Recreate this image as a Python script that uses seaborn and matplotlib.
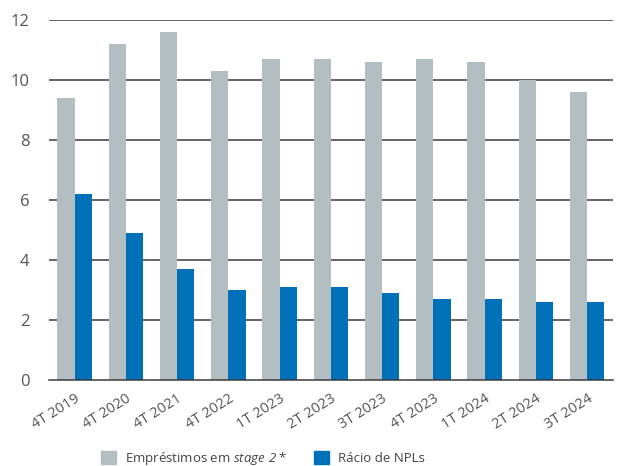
import matplotlib
matplotlib.use("Agg")
import matplotlib.pyplot as plt
import pandas as pd
import seaborn as sns
from matplotlib.patches import Patch

quarters = ['4T 2019', '4T 2020', '4T 2021', '4T 2022', '1T 2023', '2T 2023',
            '3T 2023', '4T 2023', '1T 2024', '2T 2024', '3T 2024']
stage2 = [9.4, 11.2, 11.6, 10.3, 10.7, 10.7, 10.6, 10.7, 10.6, 10.0, 9.6]
npl = [6.2, 4.9, 3.7, 3.0, 3.1, 3.1, 2.9, 2.7, 2.7, 2.6, 2.6]
series_names = ['Empréstimos em stage 2 *', 'Rácio de NPLs']

df = pd.DataFrame({'quarter': quarters * 2,
                   'value': stage2 + npl,
                   'series': [series_names[0]] * len(quarters) + [series_names[1]] * len(quarters)})

sns.set_theme(style="white")
plt.rcParams['font.family'] = ['Open Sans', 'DejaVu Sans']
# mathtext only used for the italic "stage 2" in the legend
plt.rcParams['mathtext.fontset'] = 'custom'
plt.rcParams['mathtext.it'] = 'Open Sans:italic'
plt.rcParams['mathtext.rm'] = 'Open Sans:italic'

colors = ['#B3BEC3', '#0070B8']
fig = plt.figure(figsize=(6.19, 4.66), dpi=100)
ax = fig.add_axes([0.079, 0.185, 0.911, 0.772])

sns.barplot(data=df, x='quarter', y='value', hue='series', palette=colors,
            width=0.67, gap=0, saturation=1, legend=False, linewidth=0, ax=ax)

ax.set_ylim(0, 12)
ax.set_xlim(-0.5, len(quarters) - 0.5)
ax.set_yticks(range(0, 13, 2))
ax.set_xlabel('')
ax.set_ylabel('')
for y in range(2, 13, 2):
    ax.axhline(y, color='#3a3a3a', lw=1.1, zorder=0)
ax.set_axisbelow(True)

for s in ['top', 'right', 'left']:
    ax.spines[s].set_visible(False)
ax.spines['bottom'].set_color('#3a3a3a')
ax.spines['bottom'].set_linewidth(1.1)

ax.set_xticks(range(len(quarters)))
ax.set_xticklabels(quarters, rotation=32, ha='right', rotation_mode='anchor')
ax.tick_params(axis='x', which='major', length=0, labelsize=10.5, labelcolor='#555555', pad=8)
ax.set_xticks([i - 0.5 for i in range(len(quarters) + 1)], minor=True)
ax.tick_params(axis='x', which='minor', direction='in', length=5, width=1, color='#3a3a3a')
ax.tick_params(axis='y', length=0, labelsize=12, labelcolor='#555555', pad=14)

handles = [Patch(color=colors[0]), Patch(color=colors[1])]
labels = ['Empréstimos em $stage\\ 2$ *', 'Rácio de NPLs']
fig.legend(handles, labels, loc='lower center', bbox_to_anchor=(0.425, -0.02), ncol=2,
           frameon=False, fontsize=9.5, handlelength=1.15, handleheight=1.15,
           handletextpad=0.7, columnspacing=2.0, borderaxespad=0.2, labelcolor='#444444')

fig.savefig('out.png', dpi=100)
